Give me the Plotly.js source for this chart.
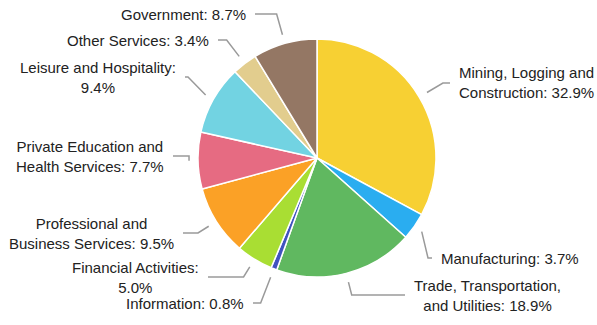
<!DOCTYPE html>
<html><head><meta charset="utf-8">
<script src="https://cdn.plot.ly/plotly-3.0.1.min.js"></script>
<style>html,body{margin:0;padding:0;background:#fff}#chart{width:597px;height:325px}</style>
</head><body><div id="chart"></div>
<script>
// ---- data ----
const categories = ["Mining, Logging and Construction", "Manufacturing", "Trade, Transportation, and Utilities", "Information", "Financial Activities", "Professional and Business Services", "Private Education and Health Services", "Leisure and Hospitality", "Other Services", "Government"];
const shares = [32.9, 3.7, 18.9, 0.8, 5.0, 9.5, 7.7, 9.4, 3.4, 8.7];

// ---- style / layout ----
const colors = ["#F7D033", "#2AADF0", "#60B860", "#4053BF", "#A9DE33", "#FBA126", "#E66B82", "#72D3E2", "#E2CD8E", "#947764"];
const labelEndX = [450, 432, 405, 253, 208, 183, 173, 185, 218, 255]; // px, end of connector next to label
const labelY = [83, 258, 295, 303, 277, 233, 156, 77, 40, 14];        // px, label centre line
const wrapW = [140, 200, 152, 200, 140, 170, 160, 160, 200, 200];      // px, wrap width

const W = 597, H = 325;
const cx = 317, cy = 158, R = 119;
const FONT = '"Liberation Sans", Arial, sans-serif';
const FS = 15;

const px2x = x => x / W;
const px2y = y => 1 - y / H;

const ctx = document.createElement('canvas').getContext('2d');
ctx.font = FS + 'px "Liberation Sans"';
function wrap(text, maxW) {
  const words = text.split(' ');
  const lines = [];
  let cur = '';
  words.forEach(w => {
    const t = cur ? cur + ' ' + w : w;
    if (cur && ctx.measureText(t).width > maxW) { lines.push(cur); cur = w; }
    else cur = t;
  });
  if (cur) lines.push(cur);
  return lines.join('<br>');
}

const total = shares.reduce((a, b) => a + b, 0);
let cum = 0;
const annotations = [], shapes = [];
shares.forEach((v, i) => {
  const mid = (cum + v / 2) / total * 2 * Math.PI; // clockwise from top
  cum += v;
  const sx = Math.sin(mid), sy = -Math.cos(mid);
  const right = sx >= 0;
  const T = [cx + sx * (R + 9), cy + sy * (R + 9)];
  const ly = labelY[i], ex = labelEndX[i];
  // radial line intersection with label y
  let kx;
  if (Math.abs(sy) > 1e-3) {
    const t = (ly - T[1]) / sy;
    kx = t > 0 ? T[0] + sx * t : T[0];
  } else kx = right ? ex - 4 : ex + 4;
  if (right) kx = Math.min(kx, ex - 4); else kx = Math.max(kx, ex + 3);
  shapes.push({
    type: 'path', xref: 'paper', yref: 'paper', layer: 'above',
    path: `M${px2x(T[0])},${px2y(T[1])} L${px2x(kx)},${px2y(ly)} L${px2x(ex)},${px2y(ly)}`,
    line: {color: '#9a9a9a', width: 1.5}
  });
  const txt = wrap(categories[i] + ': ' + v.toFixed(1) + '%', wrapW[i]);
  annotations.push({
    xref: 'paper', yref: 'paper', showarrow: false,
    x: px2x(right ? ex + 7 : ex - 7), y: px2y(ly),
    xanchor: right ? 'left' : 'right', yanchor: 'middle', align: 'center',
    text: txt, font: {family: FONT, size: FS, color: '#222'}
  });
});

const trace = {
  type: 'pie', values: shares, labels: categories, sort: false,
  direction: 'clockwise', rotation: 0, textinfo: 'none', hoverinfo: 'label+percent',
  marker: {colors: colors, line: {color: '#ffffff', width: 1.5}},
  domain: {x: [(cx - R) / W, (cx + R) / W], y: [(H - cy - R) / H, (H - cy + R) / H]},
  showlegend: false
};

Plotly.newPlot('chart', [trace], {
  width: W, height: H, margin: {l: 0, r: 0, t: 0, b: 0},
  paper_bgcolor: '#ffffff', showlegend: false,
  annotations: annotations, shapes: shapes
}, {displayModeBar: false, staticPlot: true});
</script></body></html>
